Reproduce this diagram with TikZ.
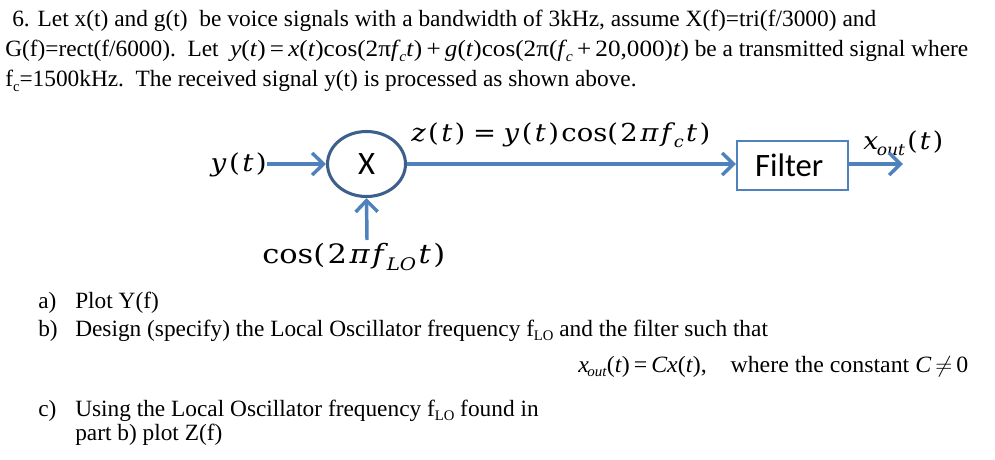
\documentclass[tikz,border=0pt]{standalone}
\usepackage{fontspec}
\usepackage{graphicx}
\setmainfont{Liberation Serif}
\newfontfamily\dvs{DejaVu Serif}
\newfontfamily\calibrifont{Carlito}
\usetikzlibrary{arrows.meta,shapes.geometric}
\definecolor{arrowblue}{HTML}{4F81BD}
\definecolor{ringblue}{HTML}{3C5F8C}
\newcommand\sbs[1]{\raisebox{-0.45ex}{\fontsize{11}{11}\selectfont #1}}
\newcommand\lsub[1]{\raisebox{-0.55ex}{\fontsize{13}{13}\selectfont #1}}
\newcommand\dsub[1]{\raisebox{-0.5ex}{\fontsize{12}{12}\selectfont #1}}
\newcommand\mi[1]{\textit{#1}}
\newcommand\gp{\kern1.6pt}
\newcommand\fitw[2]{\resizebox{#1}{\height}{#2}}
\begin{document}
\begin{tikzpicture}[x=0.75pt,y=-0.75pt,
  txt/.style={anchor=base west, inner sep=0pt, font=\fontsize{17.5}{20}\selectfont},
  lbl/.style={inner sep=0pt, font=\dvs\fontsize{18.5}{20}\selectfont},
  sig/.style={draw=arrowblue, line width=2.6pt, -{Straight Barb[length=8.5pt,width=16.5pt]}},
  mult/.style={ellipse, draw=ringblue, line width=2.3pt, minimum width=58.5pt, minimum height=48.75pt, inner sep=0pt, font=\calibrifont\fontsize{24.5}{26}\selectfont},
  filt/.style={rectangle, draw=arrowblue, line width=1.5pt, minimum width=83.25pt, minimum height=36.75pt, inner sep=0pt, font=\calibrifont\fontsize{24.5}{26}\selectfont}
]
\useasboundingbox (0,0) rectangle (995,460);

% problem statement
\node[txt] (l1) at (12,27) {\fitw{648pt}{6. Let x(t) and g(t)\ \ be voice signals with a bandwidth of 3kHz, assume X(f)=tri(f/3000) and}};
\node[txt] (l2) at (5,57) {G(f)=rect(f/6000).\ \ Let\ \ \fitw{344pt}{\mi{y}(\mi{t})\,=\,\mi{x}(\mi{t})cos(2π\mi{f}\kern-1pt\sbs{\mi{c}}\mi{t})\,+\,\mi{g}(\mi{t})cos(2π(\mi{f}\kern-1pt\sbs{\mi{c}}\,+\,20,000)\mi{t})} be a transmitted signal where};
\node[txt] (l3) at (5,87) {f\sbs{c}=1500kHz.\ \ The received signal y(t) is processed as shown above.};

% diagram
\node[mult] (m) at (366.5,164) {X};
\node[filt] (f) at (792.5,165.5) {\hspace*{-5pt}Filter};
\node[lbl, anchor=base east] (yin) at (267,171) {\fitw{42pt}{\mi{y}\gp(\gp\mi{t}\gp)}};
\node[lbl, anchor=base west] (zl) at (411,141) {\fitw{224.25pt}{\mi{z}\gp(\gp\mi{t}\gp)\;=\;\mi{y}\gp(\gp\mi{t}\gp)\gp cos(\gp 2\gp\mi{π}\gp\mi{f}\kern-1pt\dsub{\mi{c}}\gp\mi{t}\gp)}};
\node[lbl, anchor=base west] (xo) at (863,149) {\fitw{60pt}{\mi{x}\kern-1pt\dsub{\mi{out}}\gp(\gp\mi{t}\gp)}};
\node[lbl, anchor=base west, font=\dvs\fontsize{20}{22}\selectfont] (cosl) at (262,263) {\fitw{137.25pt}{cos(\gp 2\gp\mi{π}\gp\mi{f}\kern-1pt\lsub{\mi{LO}}\gp\mi{t}\gp)}};
\coordinate (out) at (903,164);
\coordinate (lo) at (367,240);

\draw[sig] (yin.east |- m.west) -- (m.west);
\draw[sig] (m.east) -- (m.east -| f.west);
\draw[sig] (f.east |- out) -- (out);
\draw[sig] (lo) -- (m.south);

% questions
\node[txt] (qa) at (38,308) {a)};
\node[txt] (qat) at (75,308) {Plot Y(f)};
\node[txt] (qb) at (38,336) {b)};
\node[txt] (qbt) at (75,336) {Design (specify) the Local Oscillator frequency f\sbs{LO} and the filter such that};
\node[txt] (eq) at (578,372) {\fitw{292.5pt}{\mi{x}\kern-1pt\sbs{\mi{out}}(\mi{t})\,=\,\mi{Cx}(\mi{t}),\quad where the constant \mi{C}\,$\neq$\,0}};
\node[txt] (qc) at (38,416) {c)};
\node[txt] (qct) at (75,416) {Using the Local Oscillator frequency f\sbs{LO} found in};
\node[txt] (qct2) at (75,440) {part b) plot Z(f)};
\end{tikzpicture}
\end{document}
